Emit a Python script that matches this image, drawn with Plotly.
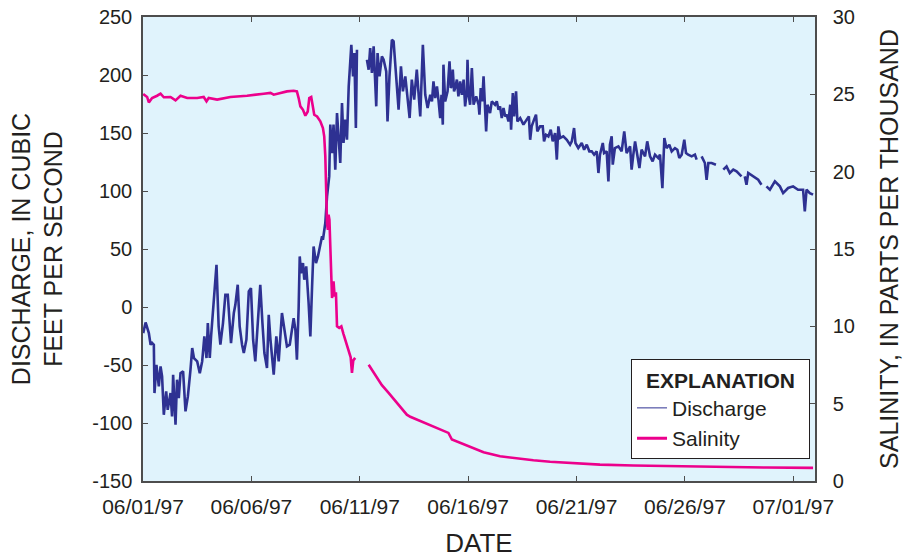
import pandas as pd
import plotly.graph_objects as go

# ---- Data (days since 06/01/97 00:00); None = gap in record ----
start = pd.Timestamp("1997-06-01")

dis_day = [0.01, 0.12, 0.27, 0.35, 0.42, 0.50, 0.53, 0.62, 0.73, 0.81, 0.88, 0.96, 1.07, 1.14, 1.27, 1.34,
           1.39, 1.50, 1.57, 1.65, 1.73, 1.85, 1.96, 2.07, 2.19, 2.27, 2.35, 2.50, 2.62, 2.73, 2.83, 2.93,
           2.99, 3.08, 3.14, 3.23, 3.39, 3.49, 3.57, 3.69, 3.80, 3.91, 3.99, 4.06, 4.19, 4.26, 4.37, 4.46,
           4.57, 4.65, 4.77, 4.88, 4.98, 5.08, 5.18, 5.26, 5.41, 5.51, 5.60, 5.72, 5.80, 5.88, 6.03, 6.15,
           6.26, 6.41, 6.52, 6.64, 6.77, 6.87, 6.95, 7.03, 7.10, 7.18, 7.23, 7.29, 7.38, 7.44, 7.53, 7.64,
           7.72, 7.80, 7.87, 7.98, 8.07, 8.18, 8.26, 8.30, 8.41, 8.49, 8.59, 8.64, 8.72, 8.79, 8.87, 8.95,
           9.02, 9.10, 9.18, 9.25, 9.33, 9.41, 9.49, 9.56, 9.61, 9.69, 9.75, 9.82, 9.87, 10.10,
           10.33, 10.41, 10.48, 10.56, 10.64, 10.76, 10.82, 10.91, 11.02, 11.10, 11.22, 11.28, 11.37, 11.48,
           11.56, 11.64, 11.71, 11.79, 11.90, 11.99, 12.10, 12.17, 12.30, 12.40, 12.51, 12.63, 12.71, 12.79,
           12.91, 13.02, 13.13,
           13.25, 13.33, 13.40, 13.48, 13.56, 13.63, 13.71, 13.77, 13.83, 13.86, 13.94, 14.05, 14.14, 14.20,
           14.25, 14.29, 14.35, 14.40, 14.48, 14.55, 14.63, 14.71, 14.79, 14.86, 14.94, 14.97, 15.02, 15.09,
           15.17, 15.25, 15.37, 15.48, 15.52, 15.58, 15.65, 15.71, 15.77, 15.83, 15.89, 16.01, 16.09, 16.24,
           16.32, 16.40, 16.47, 16.55, 16.63, 16.71, 16.78, 16.86, 16.94, 16.98, 17.06, 17.12, 17.21, 17.27,
           17.40, 17.55, 17.70, 17.80, 17.86, 17.93, 18.04, 18.13, 18.19, 18.32, 18.44, 18.50, 18.59, 18.70,
           18.81, 18.90, 19.01, 19.09, 19.16, 19.24, 19.39, 19.55, 19.70, 19.78, 19.885, 19.95, 20.08, 20.24,
           20.35, 20.47, 20.59, 20.70, 20.81, 20.93, 21.01, 21.08, 21.21, 21.27, 21.39, 21.47, 21.54, 21.62,
           21.67, 21.77, 21.93, 22.08, 22.20, 22.31, 22.47, 22.54, 22.62, 22.70, 22.80, 22.90, 23.00, 23.16,
           23.26, 23.39, 23.51, 23.62, 23.77, 23.85, 23.96, 24.05, 24.15, 24.28, 24.39, 24.54, 24.65, 24.74,
           24.85, 24.97, 25.05, 25.15, 25.31, 25.46, 25.54, 25.65,
           25.77, 25.92, 26.00, 26.08, 26.23, 26.43, 26.60, 26.77, 26.92, 27.07, 27.23, 27.38, 27.61, 27.69,
           27.76, 27.84, 27.92, 28.15, 28.38, 28.53, 28.65, 28.76, 28.92, 29.15, 29.38, 29.53, 29.76, 29.99,
           30.22, 30.45, 30.53, 30.61, 30.76, 30.91]

discharge = [-22.5, -13.3, -22.5, -32.5, -31.0, -32.5, -74.2, -49.8, -68.5, -51.2, -59.8, -92.9, -72.8, -88.6, -74.2, -94.3,
             -58.4, -101.5, -62.7, -78.5, -57.0, -55.5, -90.0, -77.1, -54.1, -35.4, -44.0, -46.9, -57.0, -46.9, -25.4, -44.0,
             -13.9, -44.0, -25.4, -3.8, 36.4, -16.7, -32.5, -13.9, 10.6, 10.6, -16.7, -31.1, -5.2, 1.9, 19.2, -16.7,
             -32.5, -39.7, -28.2, 13.4, 16.3, -28.2, -46.9, -22.5, 19.2, -13.9, -39.7, -52.6, -6.7, -28.2, -58.4, -25.4,
             -46.9, -5.2, -18.2, -34.0, -32.5, -18.2, -9.6, -19.6, -45.5, -0.9, 43.6, 29.2, 37.9, 23.5, 35.0, 3.4,
             -25.4, 17.7, 52.2, 37.9, 43.6, 53.7, 60.9, 58.0, 72.4, 95.4, 112.6, 157.2, 132.7, 157.2, 118.4, 167.2,
             144.2, 124.1, 175.8, 141.4, 161.5, 144.2, 190.2, 218.9, 226.1, 198.8, 218.9, 154.3, 221.8, None,
             213.2, 204.6, 223.3, 201.7, 224.7, 173.0, 218.9, 198.8, 216.1, 213.2, 203.1, 160.0, 198.8, 230.4,
             229.0, 207.4, 196.0, 170.1, 207.4, 185.9, 198.8, 187.3, 162.9, 196.0, 178.7, 204.6, 187.3, 164.3,
             226.1, 183.0, 171.5,
             183.0, 177.3, 194.5, 180.1, 190.2, 178.7, 162.9, 183.0, 157.2, 208.9, 177.3, 185.9, 211.8, 188.8,
             191.6, 204.6, 185.9, 188.8, 196.0, 181.6, 194.5, 183.0, 196.0, 173.0, 185.9, 213.2, 183.0, 174.4,
             206.0, 174.4, 181.6, 174.4, 165.8, 188.8, 177.3, 198.8, 174.4, 151.4, 174.4, 167.2, 177.3, 174.4,
             177.3, 170.1, 173.0, 162.9, 171.5, 164.3, 165.8, 160.0, 174.4, 152.8, 184.5, 164.3, 185.9, 160.0,
             162.9, 157.2, 161.5, 164.3, 144.2, 155.7, 161.5, 165.8, 151.4, 155.7, 155.7, 142.8, 148.5, 147.1,
             152.8, 142.8, 150.0, 127.0, 155.7, 145.7, 147.1, 144.2, 139.9, 142.8, 154.3, 141.4, 137.1, 141.4,
             135.6, 139.9, 134.2, 134.2, 131.3, 134.2, 115.5, 131.3, 141.4, 132.7, 134.2, 108.3, 139.9, 147.1,
             122.7, 137.0, 138.5, 134.2, 151.4, 132.7, 138.5, 118.4, 131.3, 142.8, 131.3, 119.8, 135.6, 129.9,
             142.8, 129.9, 125.5, 131.3, 128.4, 131.3, 102.5, 145.7, 137.0, 139.9, 134.2, 137.0, 135.6, 128.4,
             131.3, 144.2, 132.7, 131.3, 129.9, 131.3, 127.0, None,
             129.9, 124.1, 109.7, 124.1, 124.1, 122.7, None, 118.4, 121.2, 115.5, 118.4, 116.9, 112.6, None,
             112.6, 105.4, 115.5, 112.6, 109.7, 105.4, None, 104.0, 101.1, 108.3, 104.0, 98.2, 102.6, 104.0,
             101.1, 101.1, 82.4, 101.1, 98.2, 96.8]

sal_day = [0.01, 0.19, 0.27, 0.42, 0.65, 0.81, 0.96, 1.27, 1.50, 1.73, 2.04, 2.50, 2.80, 2.93, 3.03, 3.42,
           4.03, 4.80, 5.57, 5.88, 6.03, 6.34, 6.64, 6.95, 7.10, 7.18, 7.26, 7.38, 7.49, 7.60, 7.67, 7.76,
           7.84, 7.90, 8.03, 8.18, 8.30, 8.36, 8.41, 8.44, 8.49, 8.53, 8.56, 8.60, 8.64, 8.67, 8.72, 8.79,
           8.84, 8.90, 8.95, 9.05, 9.15, 9.25, 9.41, 9.50, 9.58, 9.64, 9.70, 9.79, 10.10,
           10.41, 10.60, 10.79, 11.02, 11.33, 11.64, 11.94, 12.17, 12.33, 12.63, 12.79, 13.17, 13.40, 14.09,
           14.25, 14.94, 15.71, 16.47, 17.24, 18.01, 18.78, 19.55, 21.08, 22.62, 24.15, 25.69, 27.23, 28.76,
           30.91]

salinity = [25.02, 24.83, 24.48, 24.76, 24.91, 25.04, 24.81, 24.83, 24.61, 24.91, 24.76, 24.76, 24.83, 24.55, 24.76, 24.66,
            24.83, 24.91, 25.04, 25.09, 24.98, 25.09, 25.19, 25.23, 25.19, 24.76, 24.22, 24.00, 23.62, 23.89, 24.76, 24.83,
            24.22, 23.68, 23.57, 23.25, 22.82, 22.28, 21.00, 18.62, 16.60, 16.25, 17.22, 16.90, 15.17, 13.66, 11.83, 12.91,
            11.94, 12.20, 10.00, 9.90, 10.00, 9.50, 8.71, 8.30, 8.00, 6.99, 7.80, 7.96, None,
            7.52, 7.10, 6.77, 6.20, 5.70, 5.16, 4.62, 4.29, 4.15, 3.97, 3.86, 3.65, 3.54, 3.11,
            2.68, 2.29, 1.86, 1.60, 1.45, 1.34, 1.24, 1.17, 1.06, 1.00, 0.96, 0.92, 0.89, 0.87,
            0.85]

date_ticks = [0, 5, 10, 15, 20, 25, 30]
dis_ticks = [-150, -100, -50, 0, 50, 100, 150, 200, 250]
sal_ticks = [0, 5, 10, 15, 20, 25, 30]

dis_x = start + pd.to_timedelta(dis_day, unit="D")
sal_x = start + pd.to_timedelta(sal_day, unit="D")
tick_x = start + pd.to_timedelta(date_ticks, unit="D")

NAVY = "#2E3192"
MAGENTA = "#EC008C"
INK = "#231F20"
AXIS = "#4D4D4D"
FONT = "Liberation Sans, Arial, sans-serif"

fig = go.Figure()
fig.add_trace(go.Scatter(x=dis_x, y=discharge, mode="lines", name="Discharge",
                         line=dict(color=NAVY, width=2.6), showlegend=False, yaxis="y"))
fig.add_trace(go.Scatter(x=sal_x, y=salinity, mode="lines", name="Salinity",
                         line=dict(color=MAGENTA, width=2.6), showlegend=False, yaxis="y2"))
# legend entries
fig.add_trace(go.Scatter(x=[None], y=[None], mode="lines", name="Discharge",
                         line=dict(color=NAVY, width=1)))
fig.add_trace(go.Scatter(x=[None], y=[None], mode="lines", name="Salinity",
                         line=dict(color=MAGENTA, width=3)))

fig.update_layout(
    width=903, height=558, autosize=False,
    margin=dict(l=143, r=88, t=17, b=77),
    paper_bgcolor="white", plot_bgcolor="#E0F3FC",
    font=dict(family=FONT, size=20, color=INK),
    xaxis=dict(
        type="date", automargin=False,
        range=[start, start + pd.Timedelta(days=31)],
        tickvals=tick_x, tickformat="%m/%d/%y",
        ticks="inside", ticklen=5, tickcolor=AXIS, tickwidth=1,
        showline=True, linecolor=AXIS, linewidth=1.5, mirror="ticks",
        showgrid=False, zeroline=False,
        tickfont=dict(size=21), ticklabelstandoff=6,
        title=dict(text="DATE", font=dict(size=26), standoff=18),
    ),
    yaxis=dict(
        automargin=False,
        range=[-150, 250], tickvals=dis_ticks, ticktext=[str(v) for v in dis_ticks],
        ticks="inside", ticklen=5, tickcolor=AXIS,
        showline=True, linecolor=AXIS, linewidth=1.5,
        showgrid=False, zeroline=False,
        tickfont=dict(size=20), ticklabelstandoff=5,
        title=dict(text="DISCHARGE, IN CUBIC<br>FEET PER SECOND", font=dict(size=25), standoff=22),
    ),
    yaxis2=dict(
        automargin=False,
        range=[0, 30], tickvals=sal_ticks, ticktext=[str(v) for v in sal_ticks],
        overlaying="y", side="right",
        ticks="inside", ticklen=5, tickcolor=AXIS,
        showline=True, linecolor=AXIS, linewidth=1.5,
        showgrid=False, zeroline=False,
        tickfont=dict(size=20), ticklabelstandoff=12,
        title=dict(text="SALINITY, IN PARTS PER THOUSAND", font=dict(size=25), standoff=26),
    ),
    legend=dict(
        x=0.9926, y=0.262, xanchor="right", yanchor="top",
        bgcolor="white", bordercolor=INK, borderwidth=1,
        font=dict(size=21, color=INK),
        title=dict(text="&nbsp;&nbsp;<b>EXPLANATION</b>&nbsp;&nbsp;", side="top center", font=dict(size=21)),
        itemwidth=30, tracegroupgap=0,
    ),
)

fig.write_html("out.html")
